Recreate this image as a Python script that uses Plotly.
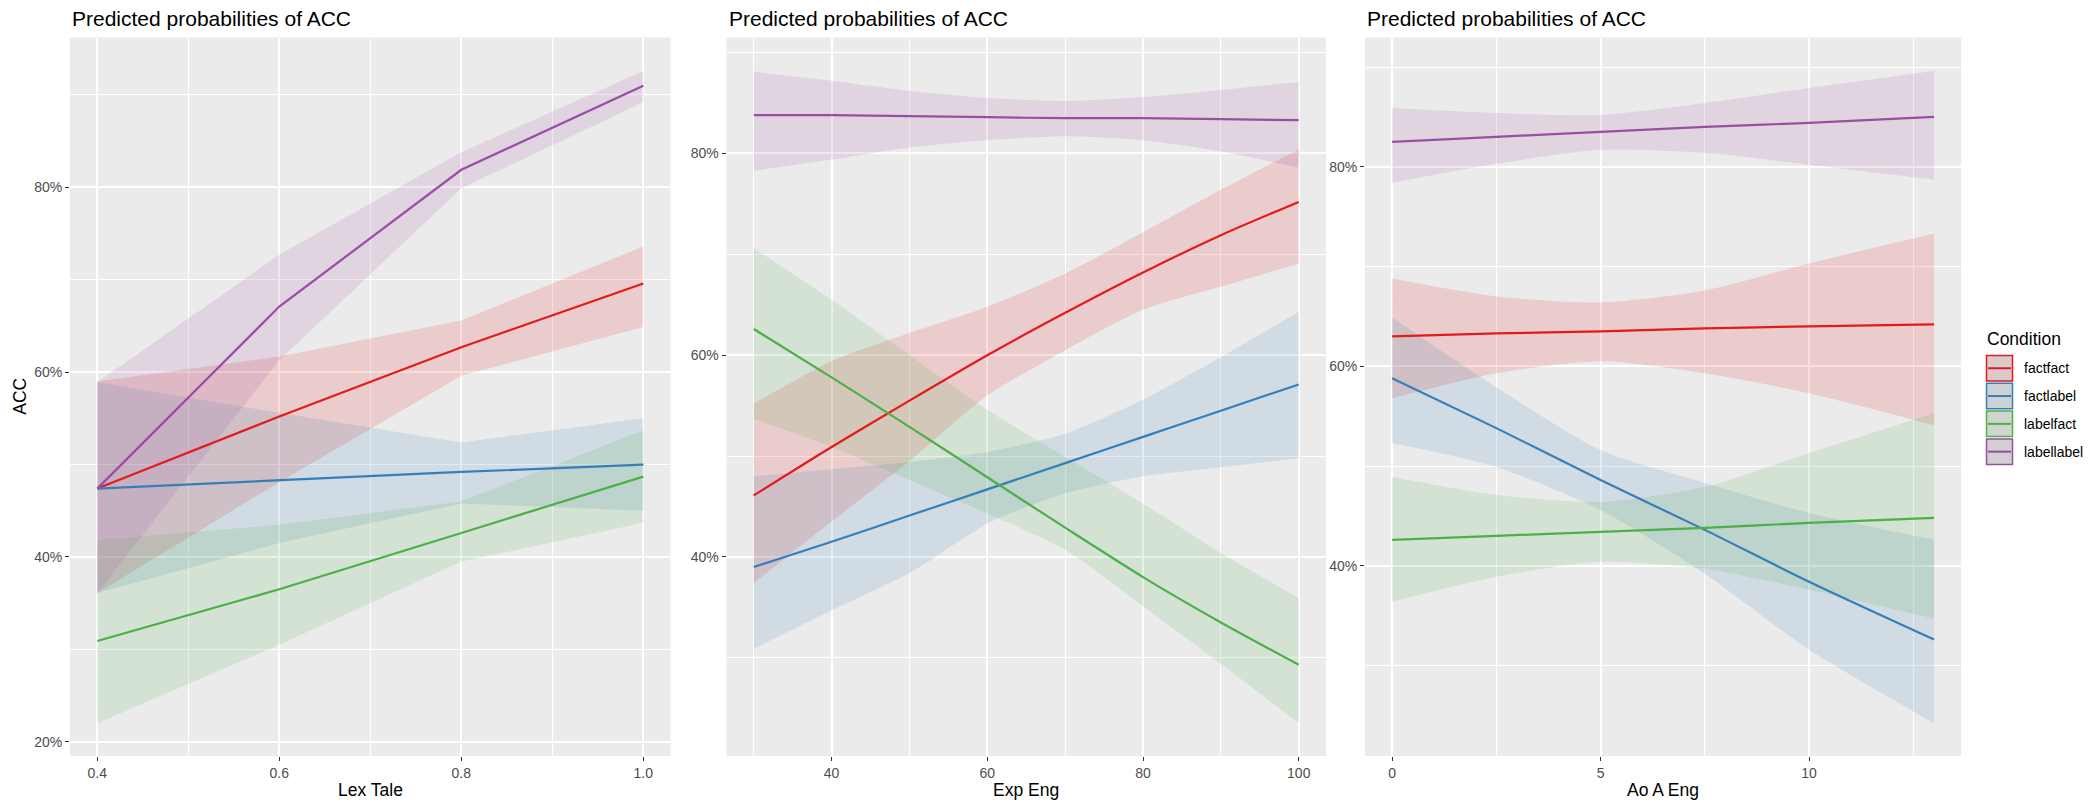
import plotly.graph_objects as go

W, H = 2098, 805

conditions = ["factfact", "factlabel", "labelfact", "labellabel"]
colors = {"factfact": "#E41A1C", "factlabel": "#377EB8",
          "labelfact": "#4DAF4A", "labellabel": "#984EA3"}
rgb = {"factfact": (228, 26, 28), "factlabel": (55, 126, 184),
       "labelfact": (77, 175, 74), "labellabel": (152, 78, 163)}

# ---- Panel 1: Lex Tale ----
lex_x = [0.4, 0.6, 0.8, 1.0]
lex_pred = {
    "factfact":   [47.4, 55.2, 62.7, 69.6],
    "factlabel":  [47.4, 48.3, 49.2, 50.0],
    "labelfact":  [30.9, 36.5, 42.6, 48.7],
    "labellabel": [47.4, 67.1, 81.9, 91.0],
}
lex_low = {
    "factfact":   [36.1, 48.1, 59.6, 64.9],
    "factlabel":  [36.1, 41.5, 45.8, 45.0],
    "labelfact":  [22.0, 30.5, 39.5, 43.7],
    "labellabel": [36.1, 61.3, 79.9, 89.2],
}
lex_high = {
    "factfact":   [59.0, 61.7, 65.6, 73.6],
    "factlabel":  [58.9, 55.6, 52.4, 55.0],
    "labelfact":  [41.8, 43.5, 46.0, 53.7],
    "labellabel": [58.9, 72.7, 83.8, 92.6],
}

# ---- Panel 2: Exp Eng ----
exp_x = [30, 40, 50, 60, 70, 80, 90, 100]
exp_pred = {
    "factfact":   [46.1, 50.9, 55.5, 60.0, 64.2, 68.2, 71.9, 75.2],
    "factlabel":  [39.0, 41.5, 44.1, 46.7, 49.3, 51.9, 54.5, 57.1],
    "labelfact":  [62.6, 57.8, 52.9, 47.9, 42.9, 38.0, 33.5, 29.3],
    "labellabel": [83.8, 83.8, 83.7, 83.6, 83.5, 83.5, 83.4, 83.3],
}
exp_low = {
    "factfact":   [37.4, 43.5, 49.5, 56.0, 60.5, 64.5, 66.8, 69.1],
    "factlabel":  [30.9, 34.7, 38.4, 43.3, 46.3, 48.0, 48.9, 49.8],
    "labelfact":  [53.7, 50.9, 47.6, 44.3, 40.7, 35.1, 29.4, 23.5],
    "labellabel": [78.3, 79.4, 80.6, 81.3, 81.7, 81.3, 80.2, 78.6],
}
exp_high = {
    "factfact":   [55.2, 59.4, 62.2, 64.8, 68.1, 72.2, 76.4, 80.4],
    "factlabel":  [48.0, 48.7, 49.4, 50.4, 52.2, 55.6, 59.8, 64.3],
    "labelfact":  [70.6, 65.5, 60.0, 54.6, 49.9, 45.3, 40.4, 35.9],
    "labellabel": [88.1, 87.2, 86.2, 85.5, 85.2, 85.6, 86.3, 87.1],
}

# ---- Panel 3: Ao A Eng ----
aoa_x = [0, 2.5, 5, 7.5, 10, 13]
aoa_pred = {
    "factfact":   [63.0, 63.3, 63.5, 63.8, 64.0, 64.2],
    "factlabel":  [58.8, 53.8, 48.6, 43.6, 38.4, 32.6],
    "labelfact":  [42.6, 43.0, 43.4, 43.8, 44.3, 44.8],
    "labellabel": [82.5, 83.0, 83.5, 84.0, 84.4, 85.0],
}
aoa_low = {
    "factfact":   [56.8, 59.3, 60.5, 59.3, 57.3, 54.1],
    "factlabel":  [52.3, 49.9, 45.6, 39.2, 31.6, 24.2],
    "labelfact":  [36.4, 38.9, 40.4, 39.7, 37.6, 34.7],
    "labellabel": [78.4, 80.3, 81.7, 81.4, 80.2, 78.7],
}
aoa_high = {
    "factfact":   [68.8, 67.0, 66.4, 67.6, 70.3, 73.3],
    "factlabel":  [64.9, 57.9, 51.6, 48.3, 45.3, 42.6],
    "labelfact":  [48.9, 47.1, 46.4, 47.9, 51.3, 55.3],
    "labellabel": [85.9, 85.4, 85.2, 86.4, 87.9, 89.6],
}

panel_title = "Predicted probabilities of ACC"
x_titles = ["Lex Tale", "Exp Eng", "Ao A Eng"]
y_title = "ACC"
legend_title = "Condition"

FONT = "Liberation Sans, Arial, Helvetica, sans-serif"
BG = "#EBEBEB"


def px(x):
    return x / W


def py(y):
    return 1 - y / H


panels = [
    dict(x=lex_x, pred=lex_pred, low=lex_low, high=lex_high, shape="linear",
         xl=70.0, xr=670.6, xrange=[0.37, 1.03], yrange=[18.46, 96.22],
         xt=[0.4, 0.6, 0.8, 1.0], xtt=["0.4", "0.6", "0.8", "1.0"], xminor=[0.5, 0.7, 0.9],
         yt=[20, 40, 60, 80], yminor=[30, 50, 70, 90]),
    dict(x=exp_x, pred=exp_pred, low=exp_low, high=exp_high, shape="spline",
         xl=726.5, xr=1326.0, xrange=[26.5, 103.5], yrange=[20.26, 91.5],
         xt=[40, 60, 80, 100], xtt=["40", "60", "80", "100"], xminor=[30, 50, 70, 90],
         yt=[40, 60, 80], yminor=[30, 50, 70, 90]),
    dict(x=aoa_x, pred=aoa_pred, low=aoa_low, high=aoa_high, shape="spline",
         xl=1365.0, xr=1961.2, xrange=[-0.65, 13.65], yrange=[20.93, 92.96],
         xt=[0, 5, 10], xtt=["0", "5", "10"], xminor=[2.5, 7.5, 12.5],
         yt=[40, 60, 80], yminor=[30, 50, 70, 90]),
]

PLOT_TOP, PLOT_BOTTOM = 37.5, 756.0

fig = go.Figure()
layout = dict(
    width=W, height=H, autosize=False,
    margin=dict(l=0, r=0, t=0, b=0),
    paper_bgcolor="white", plot_bgcolor=BG,
    showlegend=False,
    font=dict(family=FONT, color="#000000"),
    annotations=[], shapes=[],
)

for i, p in enumerate(panels, start=1):
    xa = "x" if i == 1 else f"x{i}"
    ya = "y" if i == 1 else f"y{i}"
    line_style = dict(shape=p["shape"])
    if p["shape"] == "spline":
        line_style["smoothing"] = 0.7
    # ribbons first, then lines on top
    for c in conditions:
        r, g, b = rgb[c]
        fig.add_trace(go.Scatter(
            x=p["x"], y=p["low"][c], mode="lines", line=dict(width=0, **line_style),
            xaxis=xa, yaxis=ya, hoverinfo="skip"))
        fig.add_trace(go.Scatter(
            x=p["x"], y=p["high"][c], mode="lines", line=dict(width=0, **line_style),
            fill="tonexty", fillcolor=f"rgba({r},{g},{b},0.15)",
            xaxis=xa, yaxis=ya, hoverinfo="skip"))
    for c in conditions:
        fig.add_trace(go.Scatter(
            x=p["x"], y=p["pred"][c], mode="lines", name=c,
            line=dict(color=colors[c], width=2.2, **line_style),
            xaxis=xa, yaxis=ya))

    axis_common = dict(
        showgrid=True, gridcolor="white", gridwidth=1.6, zeroline=False, showline=False,
        ticks="outside", ticklen=4, tickwidth=1, tickcolor="#333333",
        tickfont=dict(size=14, color="#4D4D4D", family=FONT),
    )
    xkey = "xaxis" if i == 1 else f"xaxis{i}"
    ykey = "yaxis" if i == 1 else f"yaxis{i}"
    layout[xkey] = dict(
        axis_common, domain=[px(p["xl"]), px(p["xr"])], range=p["xrange"],
        anchor=ya, tickmode="array", tickvals=p["xt"], ticktext=p["xtt"],
        minor=dict(tickmode="array", tickvals=p["xminor"], showgrid=True,
                   gridcolor="white", gridwidth=0.8, ticks=""),
    )
    layout[ykey] = dict(
        axis_common, domain=[py(PLOT_BOTTOM), py(PLOT_TOP)], range=p["yrange"],
        anchor=xa, tickmode="array", tickvals=p["yt"],
        ticktext=[f"{v}%" for v in p["yt"]],
        minor=dict(tickmode="array", tickvals=p["yminor"], showgrid=True,
                   gridcolor="white", gridwidth=0.8, ticks=""),
    )

    # panel title
    layout["annotations"].append(dict(
        text=panel_title, xref="paper", yref="paper", x=px(p["xl"]), y=py(18),
        xanchor="left", yanchor="middle", showarrow=False,
        font=dict(size=21, color="#000000", family=FONT)))
    # x axis title
    layout["annotations"].append(dict(
        text=x_titles[i - 1], xref="paper", yref="paper",
        x=px((p["xl"] + p["xr"]) / 2), y=py(789.5),
        xanchor="center", yanchor="middle", showarrow=False,
        font=dict(size=17.5, color="#000000", family=FONT)))

# y axis title on the first panel
layout["annotations"].append(dict(
    text=y_title, xref="paper", yref="paper", x=px(20), y=py((PLOT_TOP + PLOT_BOTTOM) / 2),
    xanchor="center", yanchor="middle", textangle=-90, showarrow=False,
    font=dict(size=17.5, color="#000000", family=FONT)))

# legend
layout["annotations"].append(dict(
    text=legend_title, xref="paper", yref="paper", x=px(1985), y=py(339),
    xanchor="left", yanchor="middle", showarrow=False,
    font=dict(size=17.5, color="#000000", family=FONT)))
key_top0, key_h, key_step = 355.5, 25.5, 27.8
kx0, kx1 = 1986.5, 2012.5
for k, c in enumerate(conditions):
    r, g, b = rgb[c]
    t = key_top0 + k * key_step
    yc = t + key_h / 2
    layout["shapes"].append(dict(
        type="rect", xref="paper", yref="paper",
        x0=px(kx0), x1=px(kx1), y0=py(t + key_h), y1=py(t),
        fillcolor="#D9D9D9", line=dict(width=0), layer="above"))
    layout["shapes"].append(dict(
        type="rect", xref="paper", yref="paper",
        x0=px(kx0), x1=px(kx1), y0=py(t + key_h), y1=py(t),
        fillcolor=f"rgba({r},{g},{b},0.08)", line=dict(color=colors[c], width=1.5),
        layer="above"))
    layout["shapes"].append(dict(
        type="line", xref="paper", yref="paper",
        x0=px(kx0 + 1.5), x1=px(kx1 - 1.5), y0=py(yc), y1=py(yc),
        line=dict(color=colors[c], width=2), layer="above"))
    layout["annotations"].append(dict(
        text=c, xref="paper", yref="paper", x=px(2022), y=py(yc),
        xanchor="left", yanchor="middle", showarrow=False,
        font=dict(size=14, color="#000000", family=FONT)))

fig.update_layout(**layout)
fig.write_html("out.html")
